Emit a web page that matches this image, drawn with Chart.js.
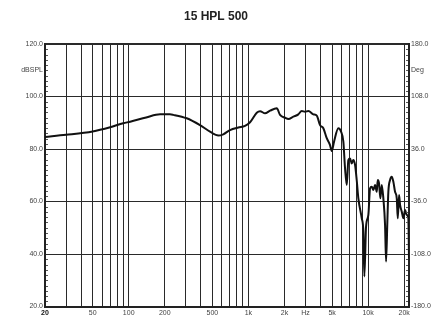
<!DOCTYPE html>
<html>
<head>
<meta charset="utf-8">
<script src="https://cdn.jsdelivr.net/npm/chart.js@4/dist/chart.umd.min.js"></script>
<style>
  html, body { margin: 0; padding: 0; background: #fff; }
  #wrap { width: 432px; height: 317px; }
</style>
</head>
<body>
<div id="wrap"><canvas id="chart" width="432" height="317"></canvas></div>
<script>
// frequency response (Hz / dB SPL)
const freqs = [20, 30, 50, 70, 90, 103, 140, 183, 221, 236, 305, 394, 478, 561, 617, 702, 824, 937,
  1032, 1174, 1251, 1377, 1516, 1725, 1838, 2024, 2156, 2374, 2612, 2790, 2972, 3168, 3488, 3724,
  3968, 4227, 4512, 4808, 4968, 5192, 5640, 5942, 6210, 6416, 6630, 6838, 7064, 7298, 7526, 7776,
  8036, 8288, 8848, 9124, 9302, 9610, 10046, 10380, 10724, 11060, 11426, 11806, 12034, 12340,
  12654, 13000, 13404, 13850, 14120, 14476, 14758, 15248, 15754, 16248, 16790, 17348, 17684,
  18132, 18482, 19100, 19694, 20348, 21020, 21680, 21950];
const spl = [84.6, 85.4, 86.7, 88.3, 89.8, 90.4, 92.0, 93.2, 93.2, 93.0, 91.7, 89.1, 86.6, 85.1, 85.6, 87.2, 88.2, 88.8,
  90.2, 93.8, 94.4, 93.6, 94.6, 95.5, 93.0, 91.9, 91.4, 92.3, 93.2, 94.5, 94.2, 94.5, 93.2, 92.7,
  89.1, 87.9, 84.1, 81.5, 79.2, 82.8, 87.9, 86.6, 82.8, 72.6, 66.3, 75.8, 76.4, 74.5, 75.8, 74.0,
  68.0, 61.2, 53.6, 48.5, 31.4, 50.4, 54.9, 65.0, 65.6, 64.4, 66.3, 63.7, 68.2, 66.9,
  61.2, 66.3, 61.2, 51.0, 37.1, 52.3, 63.7, 68.2, 69.4, 67.5, 63.7, 61.2, 53.6,
  62.5, 58.7, 56.1, 53.6, 56.8, 54.9, 53.6, 38.4];

// axes
const gridFreqs = [20, 30, 40, 50, 60, 70, 80, 90, 100, 200, 300, 400, 500, 600, 700, 800, 900,
  1000, 2000, 3000, 4000, 5000, 6000, 7000, 8000, 9000, 10000, 20000];
const freqLabels = { 20: "20", 50: "50", 100: "100", 200: "200", 500: "500", 1000: "1k",
  2000: "2k", 3000: "Hz", 5000: "5k", 10000: "10k", 20000: "20k" };
const splTicks = [20, 40, 60, 80, 100, 110, 120];
const splUnit = { 110: "dBSPL" };
const degTicks = [-180, -108, -36, 36, 108, 144, 180];
const degUnit = { 144: "Deg" };

const textColor = "#444";
const lineColor = "#2a2a2a";

// little inside tick marks along both vertical axes
const minorTicks = {
  id: "minorTicks",
  afterDatasetsDraw(chart) {
    const c = chart.ctx, a = chart.chartArea, y = chart.scales.y;
    c.save();
    c.strokeStyle = "#555";
    c.lineWidth = 1;
    for (let v = 22; v < 120; v += 2) {
      if (v % 20 === 0) continue;
      const py = Math.round(y.getPixelForValue(v)) + 0.5;
      c.beginPath();
      c.moveTo(a.left + 1, py); c.lineTo(a.left + 3, py);
      c.moveTo(a.right - 3, py); c.lineTo(a.right - 1, py);
      c.stroke();
    }
    c.restore();
  }
};

Chart.defaults.font.family = "'Liberation Sans', Arial, sans-serif";
Chart.defaults.color = textColor;

new Chart(document.getElementById("chart"), {
  type: "line",
  data: {
    datasets: [{
      data: freqs.map((f, i) => ({ x: f, y: spl[i] })),
      borderColor: "#111",
      borderWidth: 2,
      pointRadius: 0,
      cubicInterpolationMode: "monotone",
      fill: false
    }]
  },
  options: {
    responsive: false,
    devicePixelRatio: 1,
    animation: false,
    layout: { padding: 0 },
    plugins: {
      legend: { display: false },
      tooltip: { enabled: false },
      title: {
        display: true,
        text: "15 HPL 500",
        color: "#222",
        font: { size: 12, weight: "bold" },
        padding: { top: 9, bottom: 20.6 }
      }
    },
    scales: {
      x: {
        type: "logarithmic",
        min: 20,
        max: 21950,
        afterBuildTicks: s => { s.ticks = gridFreqs.map(v => ({ value: v })); },
        afterFit: s => { s.height = 10.5; },
        ticks: {
          autoSkip: false,
          maxRotation: 0,
          padding: 2,
          font: ctx => ({ size: 7, weight: ctx.tick && ctx.tick.value === 20 ? "bold" : "normal" }),
          color: ctx => ctx.tick && ctx.tick.value === 20 ? "#111" : textColor,
          callback: v => freqLabels[v] || ""
        },
        grid: { color: lineColor, lineWidth: 1, drawTicks: false },
        border: { color: "#222", width: 2 }
      },
      y: {
        position: "left",
        min: 20,
        max: 120,
        afterBuildTicks: s => { s.ticks = splTicks.map(v => ({ value: v })); },
        afterFit: s => { s.width = 45; },
        ticks: {
          autoSkip: false,
          padding: 2,
          font: { size: 7 },
          callback: v => splUnit[v] || v.toFixed(1)
        },
        grid: {
          color: lineColor,
          drawTicks: false,
          lineWidth: ctx => {
            const v = ctx.tick && ctx.tick.value;
            if (v === 120) return 2;
            if (v === 110 || v === 20) return 0;
            return 1;
          }
        },
        border: { color: "#222", width: 2 }
      },
      y2: {
        position: "right",
        min: -180,
        max: 180,
        afterBuildTicks: s => { s.ticks = degTicks.map(v => ({ value: v })); },
        afterFit: s => { s.width = 23; },
        ticks: {
          autoSkip: false,
          padding: 2,
          font: { size: 7 },
          callback: v => degUnit[v] || v.toFixed(1)
        },
        grid: { display: false, drawTicks: false },
        border: { color: "#222", width: 2 }
      }
    }
  },
  plugins: [minorTicks]
});
</script>
</body>
</html>
